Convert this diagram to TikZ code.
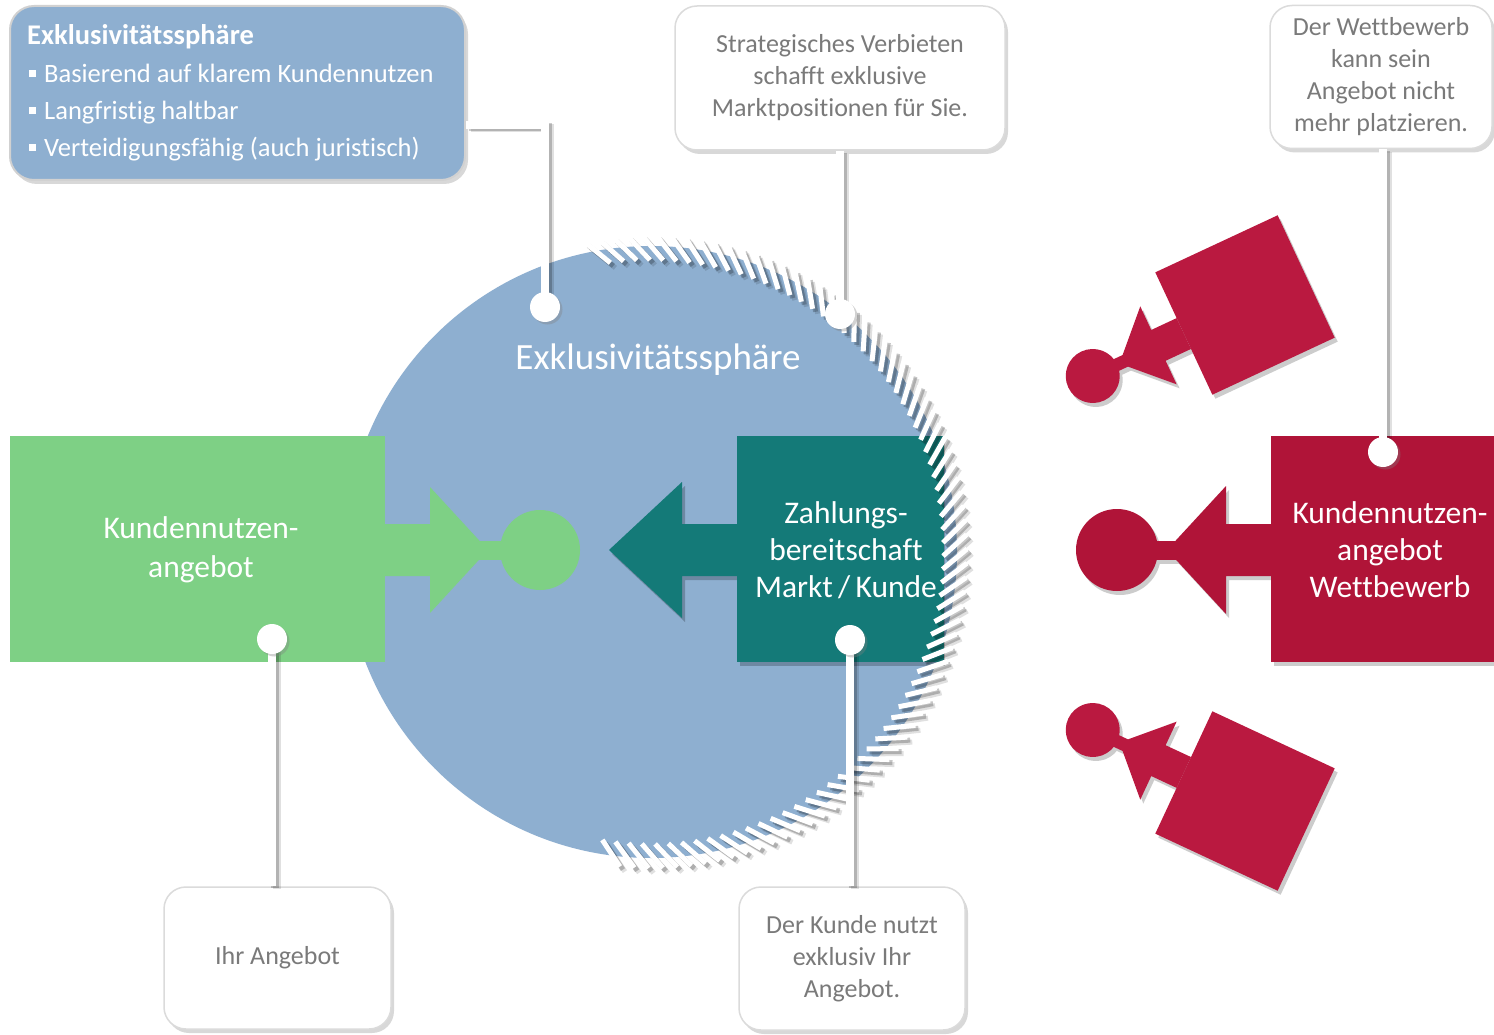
\documentclass[tikz,border=0pt]{standalone}
\usepackage{fontspec}
\setmainfont{Carlito}[Ligatures=NoCommon]
\usetikzlibrary{shadows}
\definecolor{sphere}{HTML}{8EAFD0}
\definecolor{kgreen}{HTML}{7ED085}
\definecolor{kteal}{HTML}{147A78}
\definecolor{kred}{HTML}{B01438}
\definecolor{kredb}{HTML}{BA1940}
\definecolor{ctext}{HTML}{7A7A7A}
\pgfdeclarelayer{front}
\pgfsetlayers{main,front}
\newcommand\smallredfigure[1]{%
  \fill[#1] (-67.5,-67.5) rectangle (67.5,67.5);
  \fill[#1] (-67.5,-17) -- (-95.5,-17) -- (-95.5,-43) -- (-138.5,0) -- (-95.5,43) -- (-95.5,17) -- (-67.5,17) -- cycle;
  \fill[#1] (-143,-6.4) rectangle (-132,6.4);
  \fill[#1] (-168,0) circle[radius=27];
}
\tikzset{
  callout/.style={draw=black!14, line width=1.5pt, fill=white, rounded corners=22pt,
    align=center, text=ctext, font=\fontsize{26}{32}\selectfont, inner sep=0pt,
    drop shadow={shadow xshift=3pt, shadow yshift=-4pt, opacity=0.3}},
  hdrbox/.style={draw=white!82!black, line width=2pt, fill=sphere, rounded corners=24pt,
    inner sep=0pt, drop shadow={shadow xshift=3pt, shadow yshift=-4pt, opacity=0.3}},
  hdrtext/.style={anchor=base west, inner sep=0pt, text=white, font=\fontsize{26.5}{32}\selectfont},
  biglabel/.style={align=center, text=white, inner sep=0pt},
  dot/.style={circle, fill=white, minimum size=30pt, inner sep=0pt,
    drop shadow={shadow xshift=2.5pt, shadow yshift=-2.5pt, opacity=0.35}},
  conn/.style={draw=white, line width=8pt},
  connshadow/.style={draw=black, opacity=0.2, line width=8pt, transform canvas={xshift=3pt, yshift=-2pt}},
  connshadowb/.style={draw=black, opacity=0.12, line width=8pt, transform canvas={xshift=5pt, yshift=-3pt}},
  softshadow/.style={fill=black, opacity=0.22},
  redshadow/.style={fill=black!20},
  tickline/.style={draw=white, line width=5pt},
  tickshadow/.style={draw=black, opacity=0.22, line width=5pt},
}
\begin{document}
\begin{tikzpicture}[x=1pt, y=-1pt]
\fill[white] (0,0) rectangle (1494,1035);
\useasboundingbox (0,0) rectangle (1494,1035);

% sphere
\fill[sphere] (651,552) circle[radius=306];

% green offer
\fill[kgreen] (10,436) rectangle (385,662);
\fill[kgreen] (384,524) -- (430,524) -- (430,487) -- (488,550) -- (430,613) -- (430,576) -- (384,576) -- cycle;
\fill[kgreen] (479,540.5) rectangle (505,559.5);
\fill[kgreen] (540,550) circle[radius=40];

% teal shadows
\begin{scope}[shift={(3,4)}]
  \fill[softshadow] (737,436) rectangle (942,662);
  \fill[softshadow] (738,524) -- (682,524) -- (682,482) -- (609,550) -- (682,618) -- (682,576) -- (738,576) -- cycle;
\end{scope}
\fill[kteal] (737,436) rectangle (944,662);
\fill[kteal] (738,524) -- (682,524) -- (682,482) -- (609,550) -- (682,618) -- (682,576) -- (738,576) -- cycle;

% saw ticks around the sphere
\begin{scope}[shift={(654,555)}, yscale=-1]
  \foreach \a in {98,95.4,...,-101}{
    \pgfmathsetmacro\b{\a+43}
    \draw[tickshadow] (\a:292) -- ++(\b:32);
  }
\end{scope}
\begin{scope}[shift={(656,557)}, yscale=-1]
  \foreach \a in {98,95.4,...,-101}{
    \pgfmathsetmacro\b{\a+43}
    \draw[tickshadow, opacity=0.12] (\a:292) -- ++(\b:32);
  }
\end{scope}
\begin{scope}[shift={(651,552)}, yscale=-1]
  \foreach \a in {98,95.4,...,-101}{
    \pgfmathsetmacro\b{\a+43}
    \draw[tickline] (\a:292) -- ++(\b:32);
  }
\end{scope}

% labels in shapes
\node[biglabel, font=\fontsize{37}{40}\selectfont] (lsph) at (658,360) {Exklusivitätssphäre};
\node[biglabel, font=\fontsize{31.5}{39}\selectfont] (lgreen) at (201,550) {Kundennutzen-\\angebot};
\node[biglabel, font=\fontsize{31.5}{37}\selectfont] (lteal) at (846,550) {Zahlungs-\\bereitschaft\\Markt\,/\,Kunde};

% competitor (red)
\begin{scope}[shift={(3,4)}]
  \fill[redshadow] (1271,436) rectangle (1494,662);
  \fill[redshadow] (1272,524) -- (1226,524) -- (1226,486) -- (1167,550) -- (1226,614) -- (1226,576) -- (1272,576) -- cycle;
  \fill[redshadow] (1150,540.5) rectangle (1176,559.5);
  \fill[redshadow] (1117,550) circle[radius=41];
\end{scope}
\fill[kred] (1271,436) rectangle (1494,662);
\fill[kred] (1272,524) -- (1226,524) -- (1226,486) -- (1167,550) -- (1226,614) -- (1226,576) -- (1272,576) -- cycle;
\fill[kred] (1150,540.5) rectangle (1176,559.5);
\fill[kred] (1117,550) circle[radius=41];
\node[biglabel, font=\fontsize{31.5}{37}\selectfont] (lred) at (1390,550) {Kundennutzen-\\angebot\\Wettbewerb};

\begin{scope}[shift={(1248,309)}, rotate=25]
  \smallredfigure{redshadow}
\end{scope}
\begin{scope}[shift={(1245,305)}, rotate=25]
  \smallredfigure{kredb}
\end{scope}
\begin{scope}[shift={(1248,805)}, rotate=-25]
  \smallredfigure{redshadow}
\end{scope}
\begin{scope}[shift={(1245,801)}, rotate=-25]
  \smallredfigure{kredb}
\end{scope}

% header box
\node[hdrbox, minimum width=455pt, minimum height=174pt] (hdr) at (237.5,93) {};
\node[hdrtext, font=\fontsize{28.5}{32}\selectfont\bfseries] (ht) at (27,45) {Exklusivitätssphäre};
\node[hdrtext] (hb1) at (29,83) {\rule[6pt]{7pt}{7pt}\hspace{8pt}Basierend auf klarem Kundennutzen};
\node[hdrtext] (hb2) at (29,120) {\rule[6pt]{7pt}{7pt}\hspace{8pt}Langfristig haltbar};
\node[hdrtext] (hb3) at (29,157) {\rule[6pt]{7pt}{7pt}\hspace{8pt}Verteidigungsfähig (auch juristisch)};

% callouts
\node[callout, minimum width=330pt, minimum height=144pt] (c2) at (840,78) {Strategisches Verbieten\\schafft exklusive\\Marktpositionen für Sie.};
\node[callout, minimum width=222pt, minimum height=143pt] (c3) at (1381,77) {Der Wettbewerb\\kann sein\\Angebot nicht\\mehr platzieren.};
\node[callout, minimum width=227pt, minimum height=142pt] (c4) at (277.5,958) {Ihr Angebot};
\node[callout, minimum width=226pt, minimum height=143pt] (c5) at (852,958.5) {Der Kunde nutzt\\exklusiv Ihr\\Angebot.};

% dots (front layer)
\begin{pgfonlayer}{front}
  \node[dot] (d1) at (545,307) {};
  \node[dot] (d2) at (840,314) {};
  \node[dot] (d3) at (272,639) {};
  \node[dot] (d4) at (850,640) {};
  \node[dot] (d5) at (1383,452) {};
\end{pgfonlayer}

% connectors
\coordinate (h1) at (hdr.east |- 0,125);
\draw[connshadowb] (h1) -| (d1.center);
\draw[connshadow] (h1) -| (d1.center);
\draw[conn] (h1) -| (d1.center);
\draw[connshadowb] (c2.south -| d2.center) -- (d2.center);
\draw[connshadow] (c2.south -| d2.center) -- (d2.center);
\draw[conn] (c2.south -| d2.center) -- (d2.center);
\draw[connshadowb] (c3.south -| d5.center) -- (d5.center);
\draw[connshadow] (c3.south -| d5.center) -- (d5.center);
\draw[conn] (c3.south -| d5.center) -- (d5.center);
\draw[connshadowb] (d3.center) -- (d3.center |- c4.north);
\draw[connshadow] (d3.center) -- (d3.center |- c4.north);
\draw[conn] (d3.center) -- (d3.center |- c4.north);
\draw[connshadowb] (d4.center) -- (d4.center |- c5.north);
\draw[connshadow] (d4.center) -- (d4.center |- c5.north);
\draw[conn] (d4.center) -- (d4.center |- c5.north);
\end{tikzpicture}
\end{document}
